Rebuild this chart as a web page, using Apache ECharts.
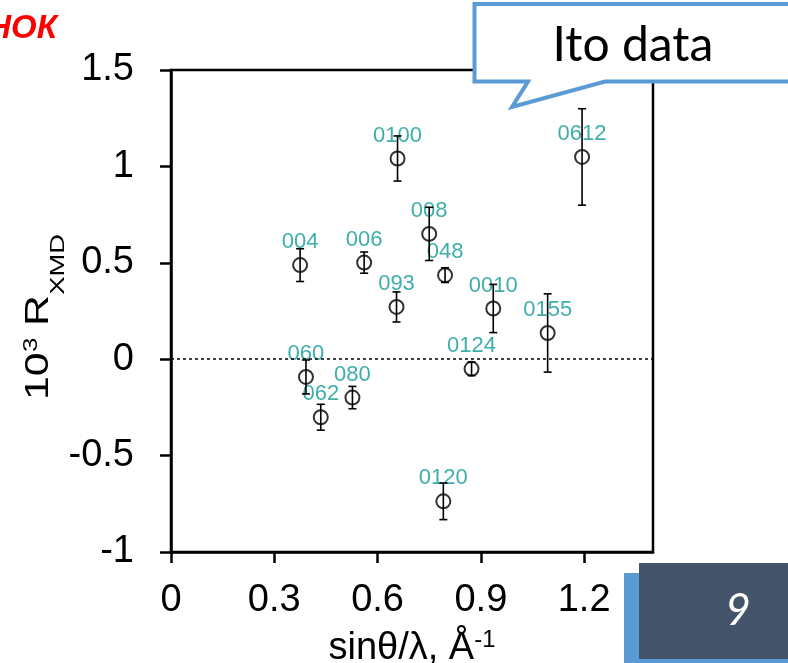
<!DOCTYPE html>
<html><head><meta charset="utf-8">
<script src="https://cdn.jsdelivr.net/npm/echarts@6/dist/echarts.min.js"></script>
<style>html,body{margin:0;padding:0;background:#fff;overflow:hidden}#c{width:788px;height:663px}</style>
</head><body><div id="c"></div>
<script>
const pointLabels = ['004','006','0100','008','048','093','0010','0155','0612','0124','060','062','080','0120'];
const sinThetaOverLambda = [0.375,0.561,0.658,0.750,0.796,0.655,0.936,1.094,1.194,0.873,0.392,0.435,0.527,0.791];
const rxmd = [0.488,0.501,1.041,0.650,0.436,0.271,0.263,0.136,1.049,-0.050,-0.092,-0.301,-0.199,-0.737];
const rxmdError = [0.085,0.055,0.117,0.138,0.038,0.078,0.125,0.203,0.250,0.035,0.088,0.067,0.058,0.095];
const xTickValues = [0,0.3,0.6,0.9,1.2];
const yTickValues = [-1,-0.5,0,0.5,1,1.5];
const calloutText = 'Ito data';
const slideNumber = '9';
const cornerText = 'РИСУНОК';

const FONT = '"Liberation Sans", Arial, sans-serif';
const scatterData = sinThetaOverLambda.map((x,i)=>[x, rxmd[i], pointLabels[i]]);
const errData = sinThetaOverLambda.map((x,i)=>[x, rxmd[i]-rxmdError[i], rxmd[i]+rxmdError[i]]);

function renderErr(params, api){
  const x = api.value(0), lo = api.value(1), hi = api.value(2);
  const a = api.coord([x, lo]), b = api.coord([x, hi]);
  const cap = 4;
  const style = {stroke:'#000', lineWidth:1.6};
  return {type:'group', children:[
    {type:'line', shape:{x1:a[0],y1:a[1],x2:b[0],y2:b[1]}, style},
    {type:'line', shape:{x1:a[0]-cap,y1:a[1],x2:a[0]+cap,y2:a[1]}, style},
    {type:'line', shape:{x1:b[0]-cap,y1:b[1],x2:b[0]+cap,y2:b[1]}, style}
  ]};
}

function t(text, x, y, size){
  return {type:'text', x:x, y:y, style:{text:text, font:size+'px "Liberation Sans", Arial, sans-serif', fill:'#000', textAlign:'left', textVerticalAlign:'middle'}};
}

const chart = echarts.init(document.getElementById('c'), null, {renderer:'canvas'});
chart.setOption({
  animation:false,
  backgroundColor:'#fff',
  grid:{left:171, top:70, width:482, height:482, outerBoundsMode:'none', containLabel:false, show:true, borderColor:'#000', borderWidth:2.5, backgroundColor:'transparent'},
  xAxis:{
    type:'value', min:0, max:1.4, interval:0.3,
    axisLine:{show:true, onZero:false, lineStyle:{color:'#000', width:2.5}},
    axisTick:{show:true, inside:false, length:11, lineStyle:{color:'#000', width:2.5}, customValues:xTickValues},
    axisLabel:{fontFamily:FONT, fontSize:38, color:'#000', margin:30, customValues:xTickValues},
    splitLine:{show:false},
    name:'{a|sinθ/λ, Å}{b|-1}', nameLocation:'middle', nameGap:76,
    nameTextStyle:{rich:{
      a:{fontFamily:FONT, fontSize:38, color:'#000', lineHeight:42},
      b:{fontFamily:FONT, fontSize:24, color:'#000', verticalAlign:'top', lineHeight:24}
    }}
  },
  yAxis:{
    type:'value', min:-1, max:1.5, interval:0.5,
    axisLine:{show:true, onZero:false, lineStyle:{color:'#000', width:2.5}},
    axisTick:{show:true, inside:false, length:11, lineStyle:{color:'#000', width:2.5}},
    axisLabel:{fontFamily:FONT, fontSize:38, color:'#000', margin:37},
    splitLine:{show:false}
  },
  series:[
    {
      type:'scatter', z:2, data:scatterData, symbol:'circle', symbolSize:14,
      itemStyle:{color:'transparent', borderColor:'#000', borderWidth:2},
      label:{show:true, position:'top', distance:4, formatter:p=>p.data[2], fontFamily:FONT, fontSize:22, color:'#0E9A96'},
      markLine:{silent:true, symbol:['none','none'], label:{show:false},
        lineStyle:{color:'#000', width:1.5, type:[3,3]}, data:[{yAxis:0}]}
    },
    {type:'custom', z:5, data:errData, renderItem:renderErr}
  ],
  graphic:[
    {type:'group', x:50, y:400, rotation:Math.PI/2, scaleX:1.3, scaleY:1, children:[
      t('10', 0, -11, 33),
      t('3', 37, -19, 20),
      t('R', 57, -11, 33),
      t('XMD', 81, 8, 21)
    ]},
    {type:'polygon', z:100, shape:{points:[[474.5,4],[800,4],[800,81.5],[605,81.5],[512,107],[528,81.5],[474.5,81.5]]},
      style:{fill:'#fff', stroke:'#5B9BD5', lineWidth:4}},
    {type:'text', z:101, x:633, y:46, style:{text:calloutText, font:'48px Lato, "Open Sans", sans-serif', fill:'#000', textAlign:'center', textVerticalAlign:'middle'}},
    {type:'rect', z:100, shape:{x:624, y:573, width:170, height:95}, style:{fill:'#5B9BD5'}},
    {type:'rect', z:101, shape:{x:639, y:563, width:160, height:96}, style:{fill:'#44546A'}},
    {type:'text', z:102, x:738, y:611, style:{text:slideNumber, font:'italic 44px Lato, "Open Sans", sans-serif', fill:'#fff', textAlign:'center', textVerticalAlign:'middle'}},
    {type:'text', z:100, x:57, y:29, style:{text:cornerText, font:'italic bold 33px "Liberation Sans", Arial, sans-serif', fill:'#FF0000', textAlign:'right', textVerticalAlign:'middle'}}
  ]
});
</script>
</body></html>
